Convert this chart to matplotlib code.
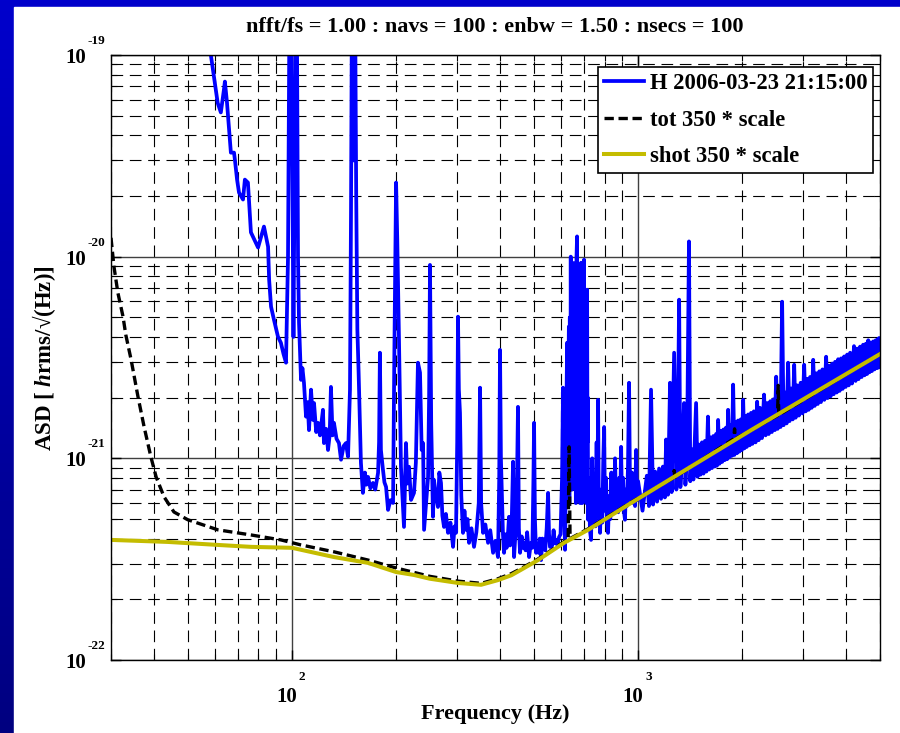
import numpy as np
import matplotlib
matplotlib.use('Agg')
import matplotlib.pyplot as plt
from matplotlib.ticker import LogLocator, NullFormatter
from matplotlib.transforms import offset_copy
from matplotlib.colors import LinearSegmentedColormap

plt.rcParams['font.family'] = ['Liberation Serif', 'DejaVu Serif']
plt.rcParams['font.weight'] = 'bold'
plt.rcParams['mathtext.fontset'] = 'custom'
plt.rcParams['mathtext.rm'] = 'Liberation Serif:bold'
plt.rcParams['mathtext.it'] = 'Liberation Serif:bold:italic'
plt.rcParams['mathtext.bf'] = 'Liberation Serif:bold'

# Text
title = 'nfft/fs = 1.00 : navs = 100 : enbw = 1.50 : nsecs = 100'
xlabel = 'Frequency (Hz)'
ylabel = r'ASD [ $\mathit{h}$rms/√(Hz)]'
labels = ['H 2006-03-23 21:15:00', 'tot 350 * scale', 'shot 350 * scale']

h_low = [(30, 8e-19), (45, 2.5e-19), (58.3, 1.0e-19), (61.0, 5.79e-20), (62.3, 5.19e-20),
         (63.6, 6.74e-20), (64.0, 7.38e-20), (64.9, 5.81e-20), (65.8, 4.27e-20),
         (66.6, 3.28e-20), (68.0, 3.28e-20), (68.4, 3.03e-20), (69.4, 2.41e-20),
         (70.3, 2.08e-20), (72.2, 1.92e-20), (73.1, 2.41e-20), (74.6, 2.33e-20),
         (75.1, 1.92e-20), (76.1, 1.32e-20), (79.8, 1.11e-20), (83.0, 1.41e-20),
         (85.3, 1.12e-20), (85.9, 7.69e-21), (87.0, 5.65e-21), (88.7, 4.87e-21),
         (91.1, 4.01e-21), (92.9, 3.74e-21), (94.5, 3.3e-21), (96.1, 2.98e-21),
         (97.4, 1e-20), (98.7, 5e-19), (100.2, 3e-20), (101.0, 4e-21), (101.8, 3e-20),
         (103.0, 5e-19), (104.1, 1e-20), (104.8, 4.7e-21), (106.2, 2.45e-21),
         (107.2, 2.8e-21), (108.3, 2.37e-21), (109.8, 1.61e-21), (111, 1.9e-21),
         (112, 1.38e-21), (113.5, 2.19e-21), (115, 1.55e-21), (115.8, 1.88e-21),
         (117.5, 1.35e-21), (118.9, 1.5e-21), (120.5, 1.3e-21), (122.9, 1.74e-21),
         (123.7, 1.19e-21), (125.5, 1.4e-21), (127.1, 1.10e-21), (128.5, 1.3e-21),
         (129.6, 2.26e-21), (131, 1.3e-21), (132.2, 1.5e-21), (134.5, 1.25e-21),
         (136.7, 1.19e-21), (138.6, 9.84e-22), (141, 1.15e-21), (143.2, 1.19e-21),
         (145.2, 1.02e-21), (147.1, 2.19e-21), (148.1, 1.65e-20), (149.3, 4e-19),
         (150.6, 3e-20), (151.8, 4e-19), (153.3, 2.08e-20), (154.5, 4.35e-21),
         (155.8, 2.66e-21), (158.2, 9.5e-22), (160.3, 6.74e-22), (162.5, 8.5e-22),
         (164, 7.4e-22), (165.9, 8.09e-22), (168.5, 7.1e-22), (171.4, 7.55e-22),
         (174, 7.0e-22), (177.3, 8.47e-22), (178.5, 1.2e-21), (179.5, 3.34e-21),
         (180.7, 1.1e-21), (183.2, 8.77e-22), (185, 7.6e-22), (187.0, 7.22e-22),
         (189.5, 5.55e-22), (192.5, 6.2e-22), (195.9, 6.01e-22), (197.5, 3.0e-21),
         (199.9, 2.33e-20), (201.5, 1.2e-20), (203.8, 3.87e-21), (206.5, 9.08e-22)]

h_mid = [(210.7, 4.57e-22), (213.5, 1.19e-21), (215.5, 7.5e-22), (217.8, 9.08e-22),
         (220.8, 6.22e-22), (225.2, 6.74e-22), (228, 9.5e-22), (231.2, 2.98e-21),
         (234.4, 2.66e-21), (237, 1.1e-21), (239.2, 1.19e-21), (240.8, 4.42e-22),
         (244, 6.0e-22), (247.3, 8.09e-22), (249, 2.0e-21), (250.5, 9.1e-21),
         (252.5, 1.5e-21), (255.5, 5.13e-22), (257.2, 7.82e-22), (260.5, 6.5e-22),
         (264.1, 5.74e-22), (266.5, 8.5e-22), (269.5, 7.55e-22), (272, 5.2e-22),
         (275, 4.57e-22), (278.5, 5.3e-22), (282.4, 4.27e-22), (287, 4.8e-22),
         (292, 3.64e-22), (295, 4.6e-22), (297.8, 4.27e-22), (300.2, 1.2e-21),
         (301.8, 5.04e-21), (303.5, 2.2e-21), (305.8, 1.68e-21), (308.5, 6.5e-22),
         (312, 4.27e-22), (315, 5.5e-22), (318.4, 4.42e-22), (321.5, 5.0e-22),
         (324.8, 3.81e-22), (330, 4.5e-22), (335.7, 3.64e-22), (341, 4.3e-22),
         (346.5, 6.0e-22), (349.5, 2.24e-21), (352, 6.0e-22), (356.5, 4.27e-22),
         (362, 4.7e-22), (368.6, 3.81e-22), (374, 4.4e-22), (381.1, 3.40e-22),
         (387, 3.9e-22), (393.8, 3.24e-22), (397, 8e-22), (399.1, 3.45e-21),
         (401.5, 1.0e-21), (404.6, 6.22e-22), (407, 4.2e-22), (410, 3.40e-22),
         (414, 4.2e-22), (417, 3.6e-22), (420, 4.0e-22), (423.8, 5.13e-22),
         (427, 3.7e-22), (431, 4.5e-22), (435.3, 9.62e-22), (438.2, 3.24e-22),
         (441, 3.9e-22), (445, 4.5e-22), (449.8, 1.80e-21), (452.5, 4.5e-22),
         (456, 3.40e-22), (461, 4.1e-22), (464.5, 3.6e-22), (468.3, 3.81e-22),
         (473, 3.5e-22), (478, 4.3e-22), (484.2, 3.24e-22), (490, 3.8e-22),
         (495, 3.6e-22), (498.5, 8.0e-22), (500.6, 1.50e-21), (503.5, 5.0e-22),
         (507.2, 3.40e-22), (512, 3.7e-22), (516, 3.4e-22), (520, 4.0e-22),
         (524.6, 3.13e-22), (529, 4.0e-22), (534.7, 3.94e-22), (539, 3.5e-22),
         (544.5, 4.5e-22), (549.5, 6.74e-22), (553, 4.2e-22), (556.5, 3.64e-22),
         (560.5, 3.64e-22), (565, 3.7e-22), (570, 4.4e-22), (575, 3.8e-22),
         (579.4, 3.94e-22), (585, 3.7e-22), (591.2, 4.07e-22), (597, 4.2e-22),
         (603, 8.0e-22), (607, 2.24e-21), (611, 6.0e-22), (615.2, 3.52e-22),
         (619, 1.0e-21), (623.6, 3.74e-21), (627, 1.5e-21), (631, 4.5e-21)]

h_cluster = [(633, 6e-22), (635, 5e-21), (637, 8e-22), (639, 1e-20), (641, 1.5e-21),
             (643, 8e-21), (645, 7e-22), (647, 9e-21), (649, 2e-21), (651, 9.3e-21),
             (653, 8e-22), (655, 7e-21), (657, 1.5e-21), (659, 8e-21), (661, 6e-22),
             (664, 1.0e-20), (666.4, 1.26e-20), (668, 1.5e-21), (670, 9e-21), (672, 7e-22),
             (674, 8e-21), (676, 2e-21), (678, 9e-21), (680, 6e-22), (682, 8e-21),
             (684.3, 9.33e-21), (686, 1e-21), (688, 8e-21), (690, 6e-22), (692, 9e-21),
             (694, 2e-21), (696, 8e-21), (698.2, 9.66e-21), (700, 8e-22), (702, 6e-21),
             (704, 1.5e-21), (706, 5e-21), (708, 6e-22), (710, 4e-21), (712.4, 6.86e-21),
             (714, 1.2e-21), (715.5, 2e-21), (717.2, 4.96e-22), (721, 8.0e-22),
             (726, 4.4e-22), (731.4, 3.94e-22), (737, 1.0e-21), (742, 5.0e-22),
             (748, 7.5e-22), (753, 4.6e-22), (759, 1.2e-21), (763, 5.5e-22),
             (766.3, 1.95e-21), (770, 6.0e-22), (776.5, 4.27e-22), (782, 7.0e-22),
             (788, 4.8e-22), (793, 9.5e-22), (797.8, 1.43e-21), (802, 5.5e-22),
             (808, 8.0e-22), (813, 4.9e-22), (818.9, 4.27e-22), (825, 6.5e-22),
             (831, 5.0e-22), (837, 8.5e-22), (843, 5.3e-22), (852.5, 5.74e-22),
             (858, 1.0e-21), (864, 5.5e-22), (870, 7.5e-22), (876, 5.4e-22), (882, 8.0e-22),
             (888, 5.6e-22), (893, 1.14e-21), (898, 6.0e-22), (905, 8.0e-22), (910, 5.5e-22),
             (916.6, 4.96e-22), (922, 7.0e-22), (928, 5.8e-22), (935, 9.0e-22),
             (941.8, 2.37e-21), (947, 8.0e-22), (953, 6.2e-22), (960, 8.5e-22),
             (967.2, 6.01e-22), (974, 7.5e-22), (980, 5.8e-22), (987, 1.1e-21),
             (993, 6.2e-22)]

h_high = [(1000, 7.7e-22), (1030, 5.5e-22), (1060, 8.2e-22), (1075, 5.8e-22),
          (1090, 2.19e-21), (1105, 5.9e-22), (1120, 8.6e-22), (1135, 6.1e-22),
          (1150, 8.9e-22), (1165, 6.3e-22), (1180, 9.1e-22), (1195, 6.4e-22),
          (1205, 1.24e-21), (1220, 6.6e-22), (1237, 2.37e-21), (1250, 6.8e-22),
          (1271, 3.34e-21), (1290, 7.0e-22), (1300, 1.0e-21), (1314, 6.12e-21),
          (1325, 7.2e-22), (1340, 1.04e-21), (1358, 1.88e-21), (1370, 7.4e-22),
          (1385, 1.07e-21), (1403, 1.19e-20), (1415, 7.7e-22), (1430, 1.11e-21),
          (1445, 7.85e-22), (1471, 1.88e-21), (1485, 8.1e-22), (1500, 1.17e-21),
          (1515, 8.3e-22), (1530, 1.2e-21), (1545, 8.4e-22), (1560, 1.22e-21),
          (1575, 8.6e-22), (1592, 1.61e-21), (1605, 8.8e-22), (1620, 1.27e-21),
          (1635, 8.95e-22), (1650, 1.29e-21), (1665, 9.1e-22), (1680, 1.32e-21),
          (1690, 9.2e-22), (1703, 1.55e-21), (1718, 9.4e-22), (1735, 1.37e-21),
          (1750, 9.6e-22), (1765, 1.39e-21), (1780, 9.8e-22), (1795, 1.42e-21),
          (1808, 9.9e-22), (1820, 1.74e-21), (1835, 1.01e-21), (1850, 1.46e-21),
          (1866, 1.03e-21), (1882, 2.32e-21), (1898, 1.04e-21), (1915, 1.51e-21),
          (1930, 1.06e-21), (1945, 1.54e-21), (1962, 1.08e-21), (1980, 1.56e-21),
          (1995, 1.1e-21), (2012, 1.95e-21), (2028, 1.12e-21), (2045, 1.62e-21),
          (2062, 1.14e-21), (2080, 1.65e-21), (2100, 1.16e-21), (2120, 1.68e-21),
          (2140, 1.18e-21), (2160, 1.71e-21), (2185, 1.2e-21), (2208, 1.91e-21),
          (2230, 1.23e-21), (2250, 1.78e-21), (2280, 1.26e-21), (2312, 2.07e-21),
          (2335, 1.3e-21), (2360, 1.88e-21), (2385, 1.32e-21), (2410, 1.92e-21),
          (2435, 1.35e-21), (2460, 1.96e-21), (2483, 1.38e-21), (2506, 2.54e-21),
          (2530, 1.4e-21), (2555, 2.04e-21), (2580, 1.43e-21), (2607, 5.98e-21),
          (2633, 1.46e-21), (2660, 2.12e-21), (2686, 1.49e-21), (2713, 2.98e-21),
          (2740, 1.53e-21), (2770, 2.22e-21), (2797, 1.56e-21), (2825, 2.91e-21),
          (2852, 1.59e-21), (2880, 2.3e-21), (2915, 1.63e-21), (2950, 2.37e-21),
          (2985, 1.67e-21), (3019, 2.91e-21), (3050, 1.71e-21), (3080, 2.48e-21),
          (3110, 1.74e-21), (3140, 2.53e-21), (3173, 1.78e-21), (3206, 3.08e-21),
          (3238, 1.82e-21), (3270, 2.64e-21), (3305, 1.86e-21), (3340, 2.7e-21),
          (3375, 1.9e-21), (3410, 2.76e-21), (3452, 1.95e-21), (3494, 3.19e-21),
          (3527, 1.99e-21), (3560, 2.88e-21), (3600, 2.03e-21), (3640, 2.95e-21),
          (3675, 2.08e-21), (3710, 3.01e-21), (3748, 2.12e-21), (3785, 3.1e-21),
          (3822, 2.16e-21), (3860, 3.13e-21), (3900, 2.21e-21), (3940, 3.2e-21),
          (3980, 2.26e-21), (4020, 3.27e-21), (4060, 2.3e-21), (4100, 3.34e-21),
          (4150, 2.35e-21), (4206, 3.6e-21), (4250, 2.42e-21), (4290, 3.5e-21),
          (4335, 2.47e-21), (4380, 3.58e-21), (4425, 2.53e-21), (4470, 3.66e-21),
          (4510, 2.58e-21), (4550, 3.7e-21), (4590, 2.62e-21), (4624, 3.85e-21),
          (4660, 2.67e-21), (4700, 3.75e-21), (4740, 2.71e-21), (4780, 3.8e-21),
          (4820, 2.76e-21), (4860, 3.85e-21), (4895, 2.8e-21), (4930, 3.9e-21),
          (4950, 2.82e-21), (4972, 3.95e-21), (5000, 2.86e-21)]

# Total noise model
tot_freq = [30, 30.6, 31.4, 32.5, 33.1, 34.3, 35.9, 37.4, 39.1, 40.5, 42.7, 45.6, 50.0, 61.1,
            76.1, 92.9, 106.2, 132.2, 165.9, 199.9, 225, 250, 302, 352, 394, 430, 459, 514,
            611, 628, 632, 636, 717, 955, 1265, 1271, 1277, 1890, 1900, 1910, 2530, 2540,
            2550, 5000]
tot_asd = [1.24e-20, 8.92e-21, 6.63e-21, 5.04e-21, 4.10e-21, 3.08e-21, 2.02e-21, 1.43e-21,
           1.02e-21, 8.09e-22, 6.44e-22, 5.42e-22, 4.96e-22, 4.42e-22, 4.17e-22, 3.94e-22,
           3.72e-22, 3.44e-22, 3.13e-22, 2.86e-22, 2.72e-22, 2.60e-22, 2.46e-22, 2.40e-22,
           2.53e-22, 2.68e-22, 2.84e-22, 3.17e-22, 3.86e-22, 3.96e-22, 1.14e-21, 4.0e-22,
           4.47e-22, 6.06e-22, 8.0e-22, 8.7e-22, 8.05e-22, 1.25e-21, 1.40e-21, 1.25e-21,
           1.63e-21, 2.3e-21, 1.64e-21, 3.3e-21]

# Shot noise model
shot_freq = [30, 43.8, 61.1, 76.1, 100, 132.2, 165.9, 199.9, 225.2, 250, 301.8, 351.8, 393.8,
             430, 458.9, 514, 611, 717.2, 955, 2121, 5000]
shot_asd = [3.94e-22, 3.85e-22, 3.72e-22, 3.64e-22, 3.60e-22, 3.24e-22, 3.03e-22, 2.73e-22,
            2.64e-22, 2.53e-22, 2.41e-22, 2.36e-22, 2.49e-22, 2.63e-22, 2.80e-22, 3.13e-22,
            3.81e-22, 4.42e-22, 6.01e-22, 1.38e-21, 3.29e-21]

x_decades = [100, 1000]
y_decades = [1e-22, 1e-21, 1e-20, 1e-19]

h_freq, h_asd = zip(*(h_low + h_mid + h_cluster + h_high))

fig = plt.figure(figsize=(9, 7.33), dpi=100)

# slide background: blue gradient strip on the left and top
bg = fig.add_axes([0, 0, 1, 1], zorder=-10)
cmap = LinearSegmentedColormap.from_list('slide', ['#0000cc', '#000080'])
bg.imshow(np.linspace(0, 1, 256).reshape(-1, 1), aspect='auto', cmap=cmap,
          extent=[0, 1, 0, 1], origin='upper')
bg.add_patch(plt.Rectangle((14 / 900, 0), 1, 1 - 7 / 733, color='white'))
bg.set_xlim(0, 1)
bg.set_ylim(0, 1)
bg.set_axis_off()

ax = fig.add_axes([111 / 900, 73 / 733, 769 / 900, 605 / 733])
ax.set_xscale('log')
ax.set_yscale('log')

ax.plot(h_freq, h_asd, color='#0000ff', lw=2.7, label=labels[0])
ax.plot(tot_freq, tot_asd, color='black', lw=2.4, dashes=(2.8, 1.4), label=labels[1])
ax.plot(shot_freq, shot_asd, color='#c4bc00', lw=2.9, label=labels[2])

ax.set_xlim(30, 5000)
ax.set_ylim(1e-22, 1e-19)

ax.xaxis.set_minor_locator(LogLocator(base=10, subs=np.arange(2, 10), numticks=50))
ax.yaxis.set_minor_locator(LogLocator(base=10, subs=np.arange(2, 10), numticks=50))
ax.xaxis.set_minor_formatter(NullFormatter())
ax.yaxis.set_minor_formatter(NullFormatter())

ax.set_axisbelow(True)
ax.grid(which='major', color='#404040', ls='-', lw=1.0)
ax.grid(which='minor', color='black', ls=(0, (10.5, 6)), lw=0.8)
ax.tick_params(which='both', direction='in', top=True, right=True,
               labelbottom=False, labelleft=False, color='black')
ax.tick_params(which='major', length=7, width=1)
ax.tick_params(which='minor', length=4, width=0.8)
for s in ax.spines.values():
    s.set_color('black')
    s.set_linewidth(1.0)

# MATLAB style tick labels: "10" with a small raised exponent
ytr = ax.get_yaxis_transform()
for v in y_decades:
    e = int(round(np.log10(v)))
    ax.text(-0.0325, v, '10', transform=offset_copy(ytr, fig=fig, y=-8, units='dots'),
            ha='right', va='baseline', fontsize=15, fontweight='bold')
    ax.text(-0.031, v, str(e), transform=offset_copy(ytr, fig=fig, y=11, units='dots'),
            ha='left', va='baseline', fontsize=9.5, fontweight='bold')

xtr = ax.get_xaxis_transform()
for v in x_decades:
    e = int(round(np.log10(v)))
    ax.text(v, 0, '10', transform=offset_copy(xtr, fig=fig, x=-5, y=-42, units='dots'),
            ha='center', va='baseline', fontsize=15, fontweight='bold')
    ax.text(v, 0, str(e), transform=offset_copy(xtr, fig=fig, x=7, y=-20, units='dots'),
            ha='left', va='baseline', fontsize=9.5, fontweight='bold')

fig.text(495 / 900, 1 - 27 / 733, title, ha='center', va='center', fontsize=16,
         fontweight='bold')
fig.text(495 / 900, 1 - 714 / 733, xlabel, ha='center', va='center', fontsize=16,
         fontweight='bold')
fig.text(44 / 900, 1 - 358 / 733, ylabel, ha='center', va='center', rotation=90,
         fontsize=16.5, fontweight='bold')

leg = ax.legend(loc='upper right', bbox_to_anchor=(873 / 900, 1 - 67 / 733),
                bbox_transform=fig.transFigure, borderaxespad=0, fontsize=16.3,
                fancybox=False, framealpha=1, edgecolor='black', handlelength=1.77,
                handletextpad=0.27, labelspacing=0.7, borderpad=0.25)
leg.get_frame().set_linewidth(1.2)
for t in leg.get_texts():
    t.set_fontweight('bold')

plt.savefig('out.png', dpi=100)
plt.close()
